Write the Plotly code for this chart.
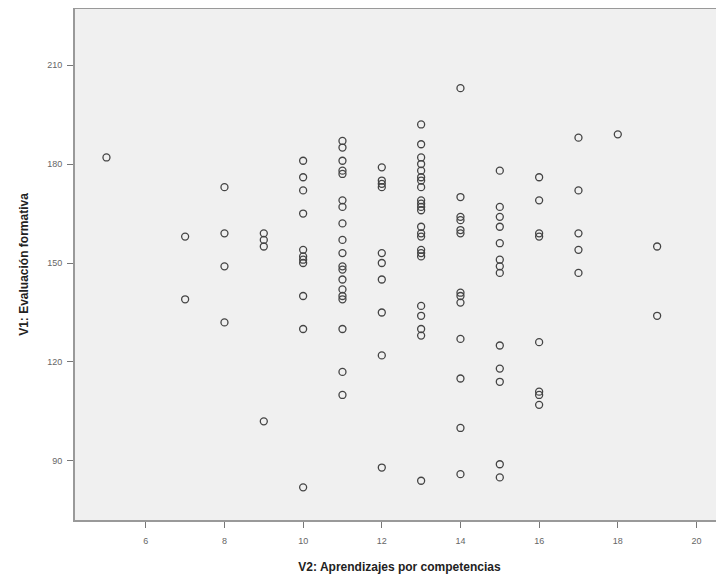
import plotly.graph_objects as go

# V2 score (x) -> list of V1 scores (y)
x5 = [182]
x7 = [158, 139]
x8 = [173, 159, 149, 132]
x9 = [159, 157, 155, 102]
x10 = [181, 176, 172, 165, 154, 152, 151, 150, 140, 130, 82]
x11 = [187, 185, 181, 178, 177, 169, 167, 162, 157, 153, 149, 148, 145, 142, 140, 139, 130, 117, 110]
x12 = [179, 175, 174, 173, 153, 150, 145, 135, 122, 88]
x13 = [192, 186, 182, 180, 178, 176, 175, 173, 169, 168, 167, 166, 161, 159, 158, 154, 153, 152, 137, 134, 130, 128, 84]
x14 = [203, 170, 164, 163, 160, 159, 141, 140, 138, 127, 115, 100, 86]
x15 = [178, 167, 164, 161, 156, 151, 149, 147, 125, 118, 114, 89, 85]
x16 = [176, 169, 159, 158, 126, 111, 110, 107]
x17 = [188, 172, 159, 154, 147]
x18 = [189]
x19 = [155, 134]

groups = {5: x5, 7: x7, 8: x8, 9: x9, 10: x10, 11: x11, 12: x12, 13: x13,
          14: x14, 15: x15, 16: x16, 17: x17, 18: x18, 19: x19}

xs, ys = [], []
for k, vals in groups.items():
    for v in vals:
        xs.append(k)
        ys.append(v)

x_ticks = [6, 8, 10, 12, 14, 16, 18, 20]
y_ticks = [90, 120, 150, 180, 210]

fig = go.Figure(go.Scatter(
    x=xs, y=ys, mode="markers",
    marker=dict(symbol="circle-open", size=7, color="#444444", line=dict(width=1.3)),
    showlegend=False, cliponaxis=False,
))

axis_font = dict(family="Liberation Sans, Arial", size=9, color="#666666")
title_font = dict(family="Liberation Sans, Arial", size=12, color="#222222")

# page body has an 8px margin, so the figure is sized/offset to compensate
fig.update_layout(
    width=716, height=566,
    margin=dict(l=67, r=0, t=1, b=54, autoexpand=False),
    paper_bgcolor="white",
    plot_bgcolor="#f0f0f0",
    xaxis=dict(
        range=[4.2, 20.7], tickvals=x_ticks, ticks="outside", ticklen=6,
        tickcolor="#777777", tickfont=axis_font, showgrid=False, zeroline=False,
        ticklabelstandoff=5,
        showline=True, linecolor="#999999", linewidth=2, mirror=True, automargin=False,
        title=dict(text="<b>V2: Aprendizajes por competencias</b>", font=title_font, standoff=18),
    ),
    yaxis=dict(
        range=[72.1, 227.0], tickvals=y_ticks, ticks="outside", ticklen=6,
        tickcolor="#777777", tickfont=axis_font, showgrid=False, zeroline=False,
        ticklabelstandoff=3,
        showline=True, linecolor="#999999", linewidth=2, automargin=False,
        title=dict(text="<b>V1: Evaluación formativa</b>", font=title_font, standoff=16),
    ),
)

fig.write_html("out.html")
